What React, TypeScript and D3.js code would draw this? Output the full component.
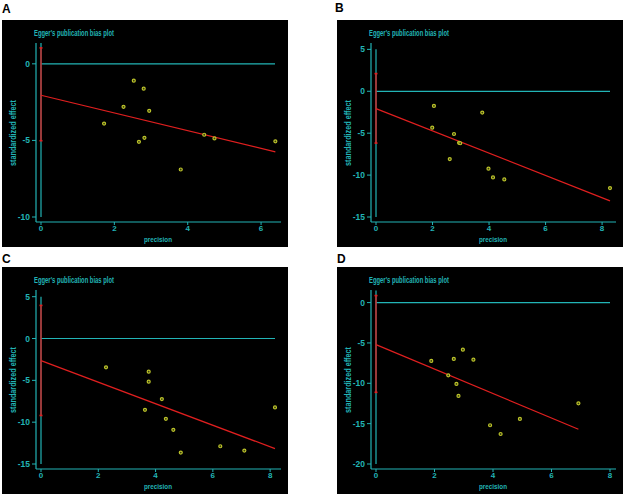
import React, { useEffect, useRef } from 'react';
import * as d3 from 'd3';

// panel letters and the Egger data
const panelNames = ['A', 'B', 'C', 'D'];

const aPrecision = [1.72, 2.25, 2.53, 2.8, 2.95, 2.67, 2.82, 3.81, 4.45, 4.73, 6.39];
const aEffect = [-3.9, -2.81, -1.1, -1.62, -3.07, -5.09, -4.83, -6.9, -4.63, -4.87, -5.06];

const bPrecision = [1.99, 2.05, 2.76, 2.61, 2.94, 2.98, 3.76, 3.98, 4.14, 4.54, 8.28];
const bEffect = [-4.34, -1.75, -5.1, -8.09, -6.15, -6.2, -2.54, -9.24, -10.28, -10.52, -11.55];

const cPrecision = [2.27, 3.76, 3.76, 3.63, 4.22, 4.36, 4.62, 4.88, 6.26, 7.1, 8.17];
const cEffect = [-3.44, -3.96, -5.16, -8.52, -7.24, -9.6, -10.92, -13.64, -12.88, -13.4, -8.24];

const dPrecision = [1.89, 2.47, 2.66, 2.75, 2.82, 2.97, 3.33, 3.9, 4.26, 4.92, 6.92];
const dEffect = [-7.23, -9.01, -6.98, -10.08, -11.57, -5.83, -7.07, -15.2, -16.28, -14.42, -12.48];

// regression intercept, slope and intercept CI
const intercepts = [-2.05, -2.07, -2.64, -5.21];
const slopes = [-0.578, -1.329, -1.288, -1.516];
const ciLow = [-5.02, -6.18, -9.2, -11.12];
const ciHigh = [1.04, 2.11, 3.96, 0.87];

// axes
const xMaxes = [6.38, 8.28, 8.17, 8.0];
const yMins = [-10, -15, -15, -20];
const yMaxes = [1.36, 5.76, 5.8, 1.56];
const zeroLineTops = [1.36, 5, 5, 1.5];
const xTicks = [[0, 2, 4, 6], [0, 2, 4, 6, 8], [0, 2, 4, 6, 8], [0, 2, 4, 6, 8]];
const yTicks = [[0, -5, -10], [5, 0, -5, -10, -15], [5, 0, -5, -10, -15], [0, -5, -10, -15, -20]];

const CYAN = '#22b4b6';
const RED = '#e01f1f';
const DOT = '#bcc42a';
const FONT = '"Liberation Sans Narrow", "Arial Narrow", "Liberation Sans", Arial, sans-serif';

function App() {
  const ref = useRef<SVGSVGElement>(null);

  useEffect(() => {
    const svg = d3.select(ref.current);
    svg.selectAll('*').remove();

    const precisions = [aPrecision, bPrecision, cPrecision, dPrecision];
    const effects = [aEffect, bEffect, cEffect, dEffect];
    const origins = [[2, 20], [337, 20], [2, 267], [337, 267]];
    const labelPos = [[2, 13], [335, 12], [2, 263], [337, 263]];

    panelNames.forEach((name, p) => {
      svg.append('text')
        .attr('x', labelPos[p][0])
        .attr('y', labelPos[p][1])
        .attr('font-family', 'Arial, "Liberation Sans", sans-serif')
        .attr('font-weight', 'bold')
        .attr('font-size', 12)
        .attr('fill', '#000')
        .text(name);

      const g = svg.append('g').attr('transform', `translate(${origins[p][0]},${origins[p][1]})`);
      g.append('rect').attr('width', 286).attr('height', 227).attr('fill', '#000');

      const x = d3.scaleLinear().domain([0, xMaxes[p]]).range([39, 273]);
      const y = d3.scaleLinear().domain([yMins[p], yMaxes[p]]).range([197, 23]);

      // title
      g.append('text')
        .attr('x', 32).attr('y', 16)
        .attr('font-family', FONT).attr('font-size', 8.5)
        .attr('font-weight', 600)
        .attr('textLength', 80).attr('lengthAdjust', 'spacingAndGlyphs')
        .attr('fill', CYAN)
        .text("Egger's publication bias plot");

      // axes
      g.append('line').attr('x1', 34).attr('x2', 34).attr('y1', 23).attr('y2', 202)
        .attr('stroke', CYAN).attr('stroke-width', 1.2);
      g.append('line').attr('x1', 34).attr('x2', 279).attr('y1', 202).attr('y2', 202)
        .attr('stroke', CYAN).attr('stroke-width', 1.2);

      yTicks[p].forEach(t => {
        g.append('line').attr('x1', 30).attr('x2', 34).attr('y1', y(t)).attr('y2', y(t))
          .attr('stroke', CYAN).attr('stroke-width', 1);
        g.append('text')
          .attr('x', 28).attr('y', y(t) + 3)
          .attr('text-anchor', 'end')
          .attr('font-family', FONT).attr('font-size', 8.5)
          .attr('font-weight', 600)
          .attr('fill', CYAN)
          .text(String(t));
      });
      xTicks[p].forEach(t => {
        g.append('line').attr('x1', x(t)).attr('x2', x(t)).attr('y1', 202).attr('y2', 205)
          .attr('stroke', CYAN).attr('stroke-width', 1);
        g.append('text')
          .attr('x', x(t)).attr('y', 211)
          .attr('text-anchor', 'middle')
          .attr('font-family', FONT).attr('font-size', 8)
          .attr('font-weight', 600)
          .attr('fill', CYAN)
          .text(String(t));
      });

      g.append('text')
        .attr('x', 156).attr('y', 222)
        .attr('text-anchor', 'middle')
        .attr('font-family', FONT).attr('font-size', 8)
        .attr('font-weight', 600)
        .attr('textLength', 28).attr('lengthAdjust', 'spacingAndGlyphs')
        .attr('fill', CYAN)
        .text('precision');
      g.append('text')
        .attr('transform', 'translate(14,113) rotate(-90)')
        .attr('text-anchor', 'middle')
        .attr('font-family', FONT).attr('font-size', 8.5)
        .attr('font-weight', 600)
        .attr('textLength', 66).attr('lengthAdjust', 'spacingAndGlyphs')
        .attr('fill', CYAN)
        .text('standardized effect');

      // reference lines
      g.append('line')
        .attr('x1', x(0)).attr('x2', x(0))
        .attr('y1', y(zeroLineTops[p])).attr('y2', y(yMins[p]))
        .attr('stroke', CYAN).attr('stroke-width', 1.2);
      g.append('line')
        .attr('x1', x(0)).attr('x2', x(xMaxes[p]))
        .attr('y1', y(0)).attr('y2', y(0))
        .attr('stroke', CYAN).attr('stroke-width', 1.2);

      // intercept CI
      g.append('line')
        .attr('x1', x(0)).attr('x2', x(0))
        .attr('y1', y(ciHigh[p])).attr('y2', y(ciLow[p]))
        .attr('stroke', RED).attr('stroke-width', 1.3);
      [ciHigh[p], ciLow[p]].forEach(v => {
        g.append('line')
          .attr('x1', x(0) - 1.5).attr('x2', x(0) + 1.5)
          .attr('y1', y(v)).attr('y2', y(v))
          .attr('stroke', RED).attr('stroke-width', 1.6);
      });

      // regression line
      const maxP = d3.max(precisions[p]) as number;
      g.append('line')
        .attr('x1', x(0)).attr('y1', y(intercepts[p]))
        .attr('x2', x(maxP)).attr('y2', y(intercepts[p] + slopes[p] * maxP))
        .attr('stroke', RED).attr('stroke-width', 1.2);

      g.selectAll('circle.pt')
        .data(precisions[p])
        .enter()
        .append('circle')
        .attr('class', 'pt')
        .attr('cx', d => x(d))
        .attr('cy', (d, i) => y(effects[p][i]))
        .attr('r', 1.5)
        .attr('fill', '#3a3c10')
        .attr('stroke', DOT)
        .attr('stroke-width', 1.2);
    });
  }, []);

  return (
    <svg ref={ref} width={624} height={495}
      style={{ position: 'absolute', left: 0, top: 0, background: '#fff' }} />
  );
}

export default App;
